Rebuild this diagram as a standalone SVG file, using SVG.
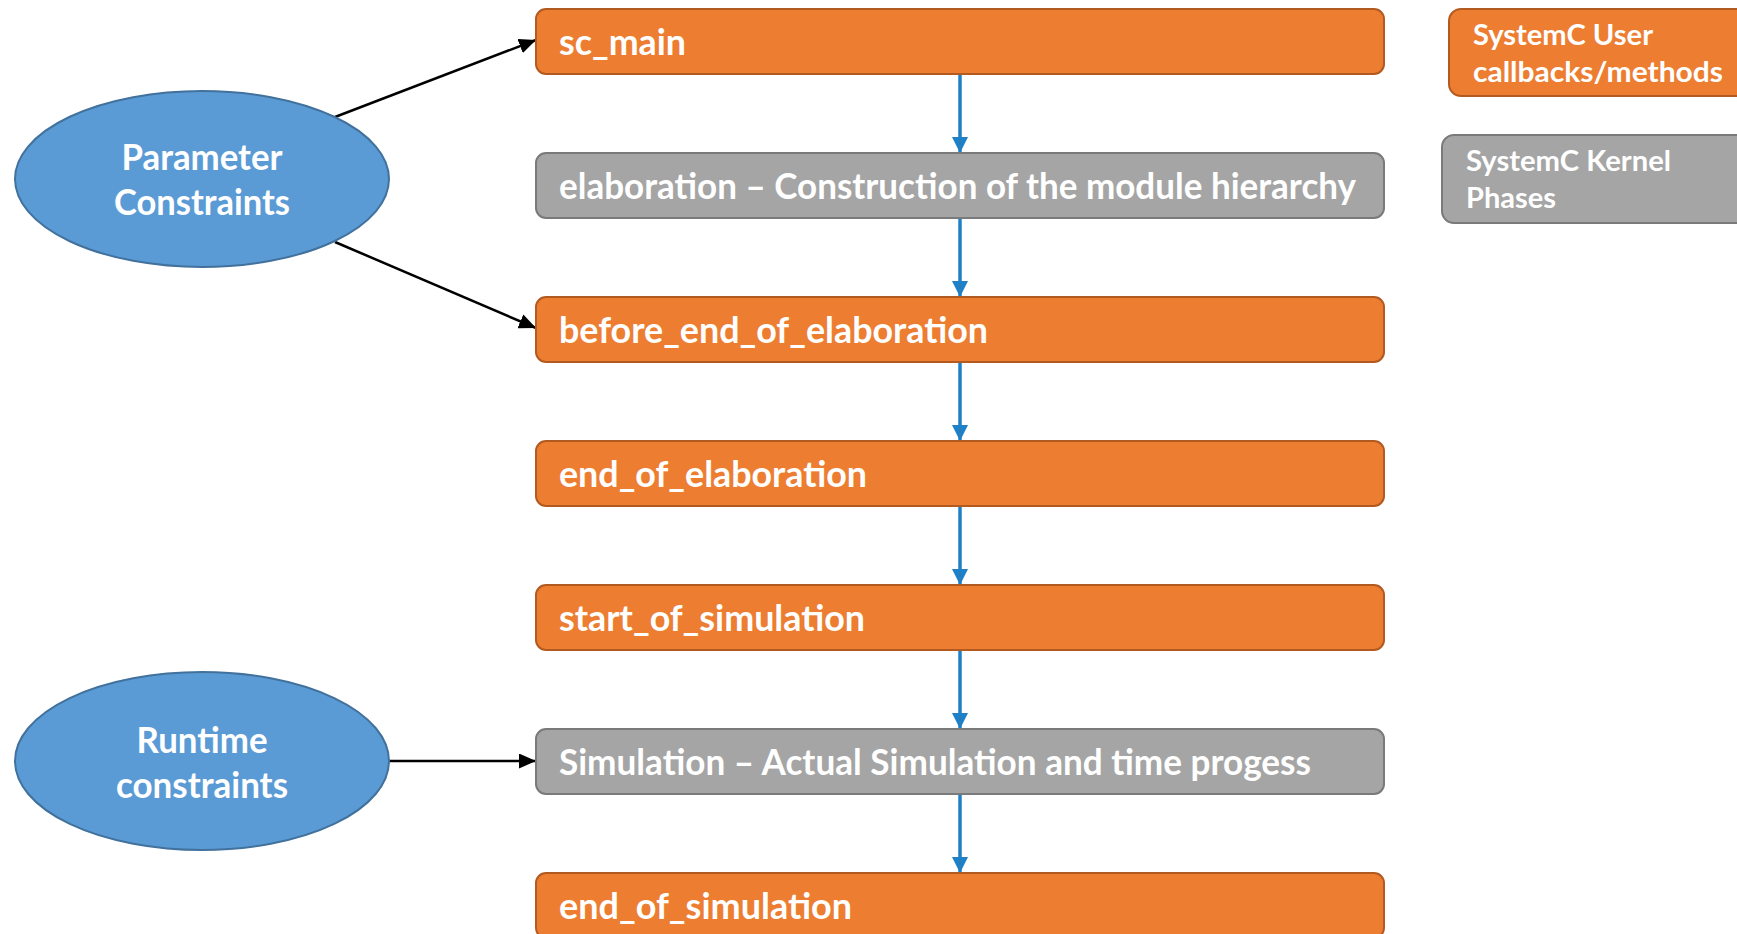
<svg xmlns="http://www.w3.org/2000/svg" width="1737" height="934" viewBox="0 0 1737 934">
<style>
.orange{fill:#ED7D31;stroke:#B35A20;stroke-width:2}
.gray{fill:#A5A5A5;stroke:#7A7A7A;stroke-width:2}
.ell{fill:#5B9BD5;stroke:#41719C;stroke-width:2}
.t{font-family:Lato,"Open Sans","Liberation Sans",sans-serif;font-weight:bold;fill:#FFFFFF;font-size:36px}
.lt{font-family:Lato,"Open Sans","Liberation Sans",sans-serif;font-weight:bold;fill:#FFFFFF;font-size:29px}
.blue{stroke:#1F80C5;stroke-width:3.5;fill:none}
.black{stroke:#000000;stroke-width:2.5;fill:none}
</style>
<defs>
<marker id="ab" markerUnits="userSpaceOnUse" markerWidth="16" markerHeight="16" viewBox="0 0 16 16" refX="16" refY="8" orient="auto">
<path d="M0,0 L16,8 L0,16 Z" fill="#1F80C5"/>
</marker>
<marker id="ak" markerUnits="userSpaceOnUse" markerWidth="17" markerHeight="15" viewBox="0 0 17 15" refX="17" refY="7.5" orient="auto">
<path d="M0,0 L17,7.5 L0,15 Z" fill="#000000"/>
</marker>
</defs>
<rect width="1737" height="934" fill="#FFFFFF"/>
<g id="connectors">
<line class="blue" x1="960" y1="74" x2="960" y2="153" marker-end="url(#ab)"/>
<line class="blue" x1="960" y1="218" x2="960" y2="297" marker-end="url(#ab)"/>
<line class="blue" x1="960" y1="362" x2="960" y2="441" marker-end="url(#ab)"/>
<line class="blue" x1="960" y1="506" x2="960" y2="585" marker-end="url(#ab)"/>
<line class="blue" x1="960" y1="650" x2="960" y2="729" marker-end="url(#ab)"/>
<line class="blue" x1="960" y1="794" x2="960" y2="873" marker-end="url(#ab)"/>
<line class="black" x1="335" y1="117" x2="536" y2="40" marker-end="url(#ak)"/>
<line class="black" x1="335" y1="242" x2="536" y2="328" marker-end="url(#ak)"/>
<line class="black" x1="389" y1="761" x2="536" y2="761" marker-end="url(#ak)"/>
</g>
<g id="param">
<ellipse class="ell" cx="202" cy="179" rx="187" ry="88"/>
<text class="t" x="202" y="170" text-anchor="middle" textLength="161" lengthAdjust="spacingAndGlyphs">Parameter</text>
<text class="t" x="202" y="215" text-anchor="middle" textLength="176" lengthAdjust="spacingAndGlyphs">Constraints</text>
</g>
<g id="runtime">
<ellipse class="ell" cx="202" cy="761" rx="187" ry="89"/>
<text class="t" x="202" y="753" text-anchor="middle" textLength="131" lengthAdjust="spacingAndGlyphs">Runtime</text>
<text class="t" x="202" y="798" text-anchor="middle" textLength="172" lengthAdjust="spacingAndGlyphs">constraints</text>
</g>
<g id="sc_main">
<rect class="orange" x="536" y="9" width="848" height="65" rx="10"/>
<text class="t" x="559" y="55" textLength="127" lengthAdjust="spacingAndGlyphs">sc_main</text>
</g>
<g id="elaboration">
<rect class="gray" x="536" y="153" width="848" height="65" rx="10"/>
<text class="t" x="559" y="199" textLength="797" lengthAdjust="spacingAndGlyphs">elaboration – Construction of the module hierarchy</text>
</g>
<g id="before_end_of_elaboration">
<rect class="orange" x="536" y="297" width="848" height="65" rx="10"/>
<text class="t" x="559" y="343" textLength="429" lengthAdjust="spacingAndGlyphs">before_end_of_elaboration</text>
</g>
<g id="end_of_elaboration">
<rect class="orange" x="536" y="441" width="848" height="65" rx="10"/>
<text class="t" x="559" y="487" textLength="308" lengthAdjust="spacingAndGlyphs">end_of_elaboration</text>
</g>
<g id="start_of_simulation">
<rect class="orange" x="536" y="585" width="848" height="65" rx="10"/>
<text class="t" x="559" y="631" textLength="306" lengthAdjust="spacingAndGlyphs">start_of_simulation</text>
</g>
<g id="simulation">
<rect class="gray" x="536" y="729" width="848" height="65" rx="10"/>
<text class="t" x="559" y="775" textLength="752" lengthAdjust="spacingAndGlyphs">Simulation – Actual Simulation and time progess</text>
</g>
<g id="end_of_simulation">
<rect class="orange" x="536" y="873" width="848" height="65" rx="10"/>
<text class="t" x="559" y="919" textLength="293" lengthAdjust="spacingAndGlyphs">end_of_simulation</text>
</g>
<g id="legend_user">
<rect class="orange" x="1449" y="9" width="320" height="87" rx="12"/>
<text class="lt" x="1473" y="45" textLength="180" lengthAdjust="spacingAndGlyphs">SystemC User</text>
<text class="lt" x="1473" y="82" textLength="250" lengthAdjust="spacingAndGlyphs">callbacks/methods</text>
</g>
<g id="legend_kernel">
<rect class="gray" x="1442" y="135" width="320" height="88" rx="12"/>
<text class="lt" x="1466" y="171" textLength="205" lengthAdjust="spacingAndGlyphs">SystemC Kernel</text>
<text class="lt" x="1466" y="208" textLength="90" lengthAdjust="spacingAndGlyphs">Phases</text>
</g>
</svg>
